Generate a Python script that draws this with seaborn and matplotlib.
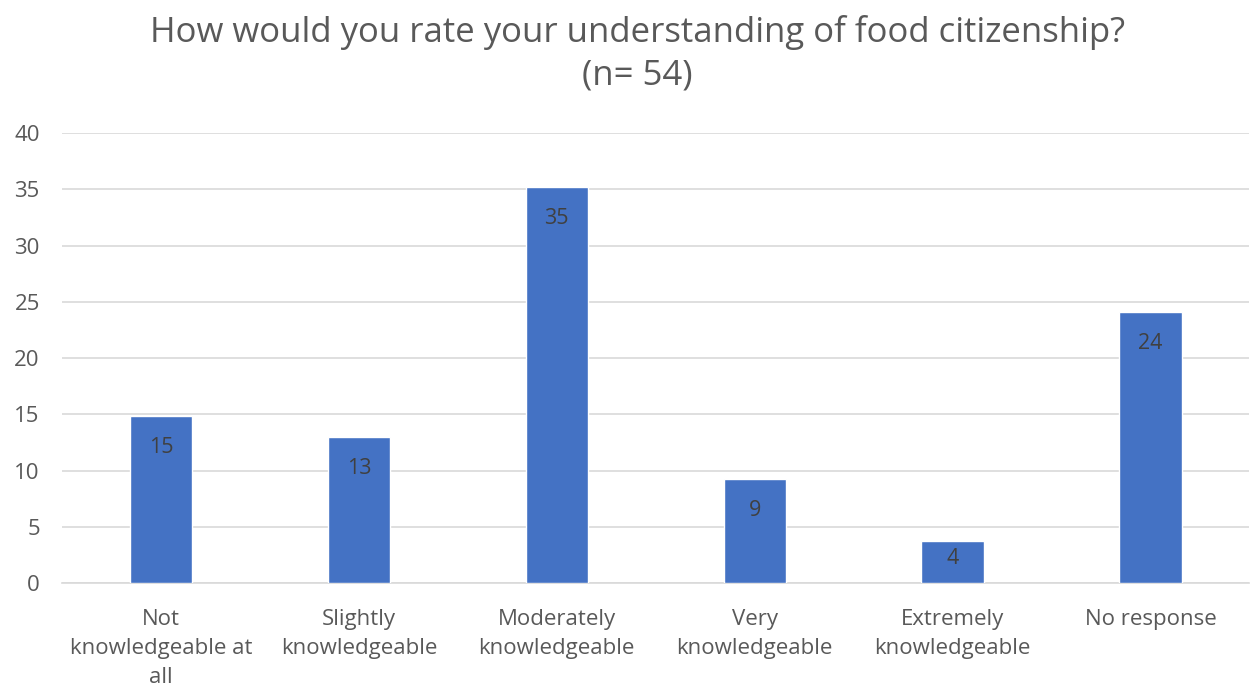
import matplotlib
matplotlib.use("Agg")
import matplotlib.pyplot as plt
import seaborn as sns
import pandas as pd

# Survey responses (counts out of n respondents)
categories = [
    "Not\nknowledgeable at\nall",
    "Slightly\nknowledgeable",
    "Moderately\nknowledgeable",
    "Very\nknowledgeable",
    "Extremely\nknowledgeable",
    "No response",
]
counts = [8, 7, 19, 5, 2, 13]
n_total = 54
y_ticks = [0, 5, 10, 15, 20, 25, 30, 35, 40]

percent = [c / n_total * 100 for c in counts]
df = pd.DataFrame({"category": categories, "percent": percent})

sns.set_theme(style="white")
plt.rcParams["font.family"] = ["Open Sans", "DejaVu Sans"]

text_color = "#595959"
bar_color = "#4472C4"
grid_color = "#D9D9D9"

fig = plt.figure(figsize=(12.52, 6.91), dpi=100)
ax = fig.add_axes([0.0495, 0.1563, 0.9485, 0.6512])

sns.barplot(data=df, x="category", y="percent", color=bar_color,
            width=0.315, saturation=1, ax=ax, zorder=3)

ax.set_ylim(0, 40)
ax.set_xlim(-0.5, len(categories) - 0.5)
ax.set_yticks(y_ticks)
ax.yaxis.grid(True, color=grid_color, linewidth=1.2, zorder=0)
ax.set_axisbelow(True)
for side in ["top", "right", "left"]:
    ax.spines[side].set_visible(False)
ax.spines["bottom"].set_color(grid_color)
ax.spines["bottom"].set_linewidth(1.2)
ax.set_xlabel("")
ax.set_ylabel("")
ax.tick_params(axis="both", length=0, labelsize=16, colors=text_color)
ax.tick_params(axis="y", pad=16)
ax.tick_params(axis="x", pad=19)
for lbl in ax.get_xticklabels():
    lbl.set_linespacing(1.5)

# Inside-end value labels; short bars keep the label from dropping below the axis
for patch, val in zip(ax.patches, percent):
    x = patch.get_x() + patch.get_width() / 2
    y = max(val - 1.85, 3.1)
    ax.text(x, y, f"{val:.0f}", ha="center", va="top",
            fontsize=15.5, color="#404040", zorder=4)

fig.suptitle(f"How would you rate your understanding of food citizenship?\n(n= {n_total})",
             x=0.509, y=0.978, fontsize=25, color=text_color, linespacing=1.3)

fig.savefig("out.png", dpi=100)
